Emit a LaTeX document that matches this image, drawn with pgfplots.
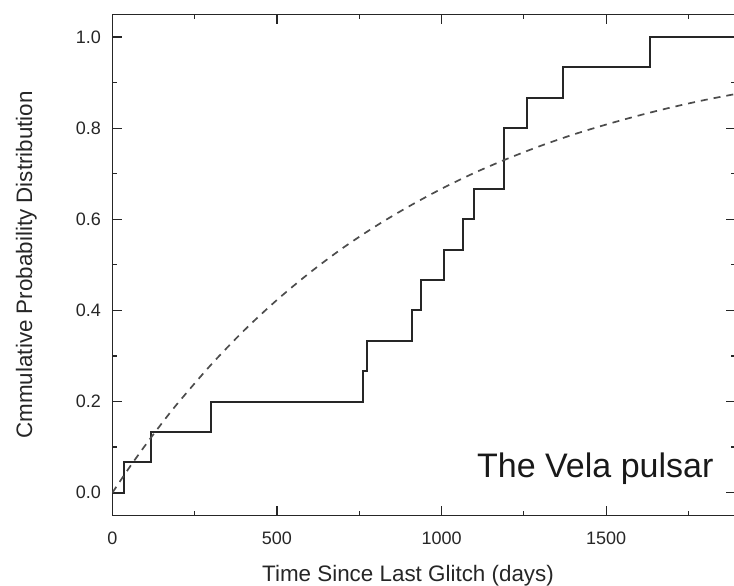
\documentclass[border=0pt]{standalone}
\usepackage{fontspec}
\setmainfont{Liberation Sans}
\usepackage{pgfplots}
\pgfplotsset{compat=1.18}
\begin{document}
\begin{tikzpicture}
\begin{axis}[
  scale only axis,
  width=311.6pt, height=250.6pt,
  xmin=0, xmax=1893, ymin=-0.05, ymax=1.05,
  xtick={0,500,1000,1500},
  minor xtick={250,750,1250,1750},
  ytick={0,0.2,0.4,0.6,0.8,1.0},
  minor ytick={0.1,0.3,0.5,0.7,0.9},
  tick align=inside,
  major tick length=4.8pt,
  minor tick length=2.2pt,
  axis line style={line width=0.7pt, color=black!85},
  every tick/.style={line width=0.6pt, color=black!85},
  tick label style={font=\fontsize{9}{10}\selectfont, color=black!85},
  /pgf/number format/assume math mode=true,
  /pgf/number format/1000 sep={},
  yticklabel style={/pgf/number format/.cd, fixed, fixed zerofill, precision=1, /tikz/.cd, xshift=-2.2pt},
  xticklabel style={yshift=-4.7pt},
  xlabel={Time Since Last Glitch (days)},
  ylabel={Cmmulative Probability Distribution},
  label style={font=\fontsize{11.2}{13}\selectfont, color=black!85},
  xlabel style={at={(axis description cs:0.4745,-0.131)}, anchor=base},
  ylabel style={at={(axis description cs:-0.138,0.5)}, anchor=center},
  clip=true,
]
\addplot[const plot, line width=1pt, color=black!85] coordinates {
  (0,0) (34,0.0667) (116,0.1333) (301,0.2) (762,0.2667) (775,0.3333)
  (909,0.4) (937,0.4667) (1008,0.5333) (1066,0.6) (1099,0.6667)
  (1190,0.8) (1259,0.8667) (1368,0.9333) (1632,1.0) (1893,1.0)
};
\addplot[line width=0.85pt, color=black!70, dash pattern=on 3.5pt off 3pt, smooth] coordinates {
  (0,0) (50,0.0535) (100,0.104) (150,0.152) (200,0.1975) (300,0.281)
  (400,0.356) (500,0.423) (600,0.483) (700,0.537) (800,0.585)
  (900,0.628) (1000,0.667) (1100,0.702) (1200,0.733) (1300,0.761)
  (1400,0.786) (1500,0.808) (1600,0.828) (1700,0.846) (1800,0.862)
  (1893,0.875)
};
\node[anchor=base, font=\fontsize{17}{20}\selectfont, color=black!90, inner sep=0pt] at (axis cs:1467,0.033) {The Vela pulsar};
\end{axis}
\pgfresetboundingbox
\path (-56.2pt,-35pt) rectangle (310.85pt,257.75pt);
\end{tikzpicture}
\end{document}
